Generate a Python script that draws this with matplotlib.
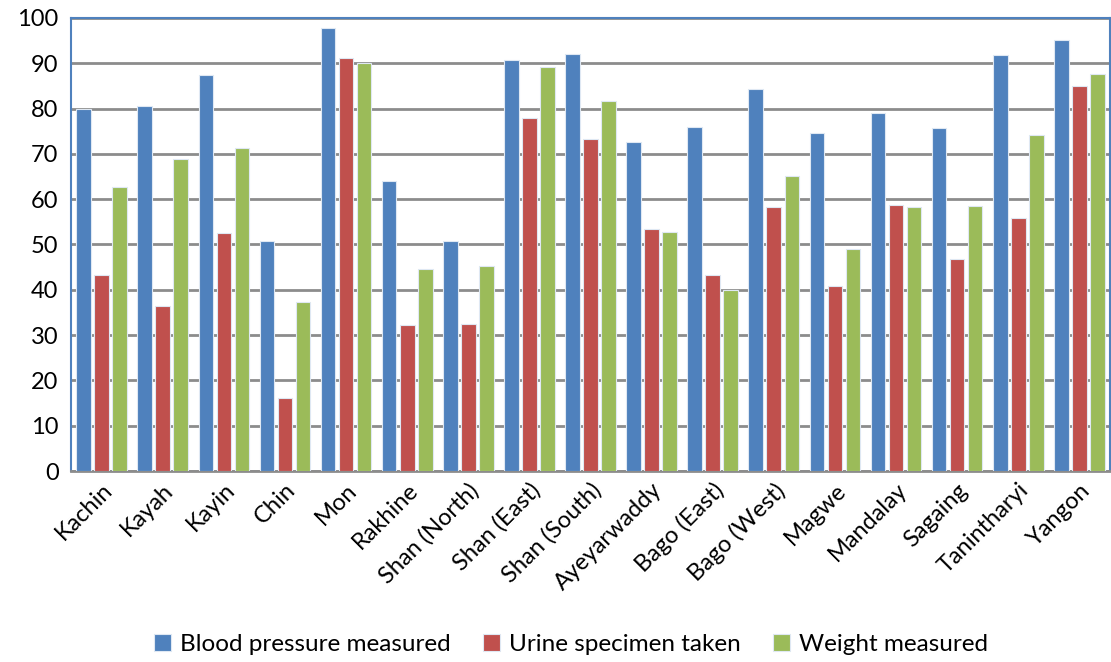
import matplotlib
matplotlib.use("Agg")
import matplotlib.pyplot as plt
import numpy as np

categories = ["Kachin", "Kayah", "Kayin", "Chin", "Mon", "Rakhine", "Shan (North)",
              "Shan (East)", "Shan (South)", "Ayeyarwaddy", "Bago (East)", "Bago (West)",
              "Magwe", "Mandalay", "Sagaing", "Tanintharyi", "Yangon"]
blood_pressure = [80.0, 80.6, 87.5, 50.8, 97.8, 64.1, 50.7, 90.7, 92.1, 72.7, 76.0, 84.3,
                  74.5, 79.0, 75.7, 91.7, 95.1]
urine = [43.3, 36.4, 52.5, 16.1, 91.1, 32.2, 32.4, 77.9, 73.2, 53.3, 43.2, 58.2,
         40.9, 58.7, 46.8, 55.9, 84.9]
weight = [62.6, 68.9, 71.2, 37.2, 90.1, 44.6, 45.2, 89.2, 81.7, 52.7, 40.0, 65.2,
          48.9, 58.3, 58.5, 74.1, 87.6]
series_names = ["Blood pressure measured", "Urine specimen taken", "Weight measured"]
yticks = [0, 10, 20, 30, 40, 50, 60, 70, 80, 90, 100]

colors = ["#4F81BD", "#C0504D", "#9BBB59"]
plt.rcParams['font.family'] = ['Lato', 'DejaVu Sans']

fig = plt.figure(figsize=(11.11, 6.62), dpi=100)
ax = fig.add_axes([0.064, 0.2885, 0.935, 0.6845])

x = np.arange(len(categories))
w = 0.24
off = 0.295
handles = []
for i, (vals, c, name) in enumerate(zip([blood_pressure, urine, weight], colors, series_names)):
    h = ax.bar(x + (i - 1) * off, vals, width=w, color=c, edgecolor="#dfe8f3",
               linewidth=0.8, label=name, zorder=3)
    handles.append(h)

ax.set_xlim(-0.5, len(categories) - 0.5)
ax.set_ylim(0, 100)
ax.set_yticks(yticks)
ax.set_yticklabels([str(t) for t in yticks], fontsize=17)
ax.yaxis.grid(True, color="#8c8c8c", linewidth=2, zorder=0)
ax.set_axisbelow(True)
ax.tick_params(axis='y', length=0, pad=9)
ax.tick_params(axis='x', length=0, pad=6)
ax.set_xticks(x)
ax.set_xticklabels(categories, rotation=45, ha='right', rotation_mode='anchor', fontsize=17)

for s in ['left', 'top', 'right']:
    ax.spines[s].set_color("#4F81BD")
    ax.spines[s].set_linewidth(1.5)
ax.spines['bottom'].set_color("#8c8c8c")
ax.spines['bottom'].set_linewidth(2)

fig.legend(handles=handles, labels=series_names, loc='center', bbox_to_anchor=(0.514, 0.026),
           ncol=3, frameon=False, fontsize=17.5, handlelength=0.7, handleheight=0.7,
           columnspacing=1.3, handletextpad=0.4)

fig.savefig("out.png", dpi=100)
